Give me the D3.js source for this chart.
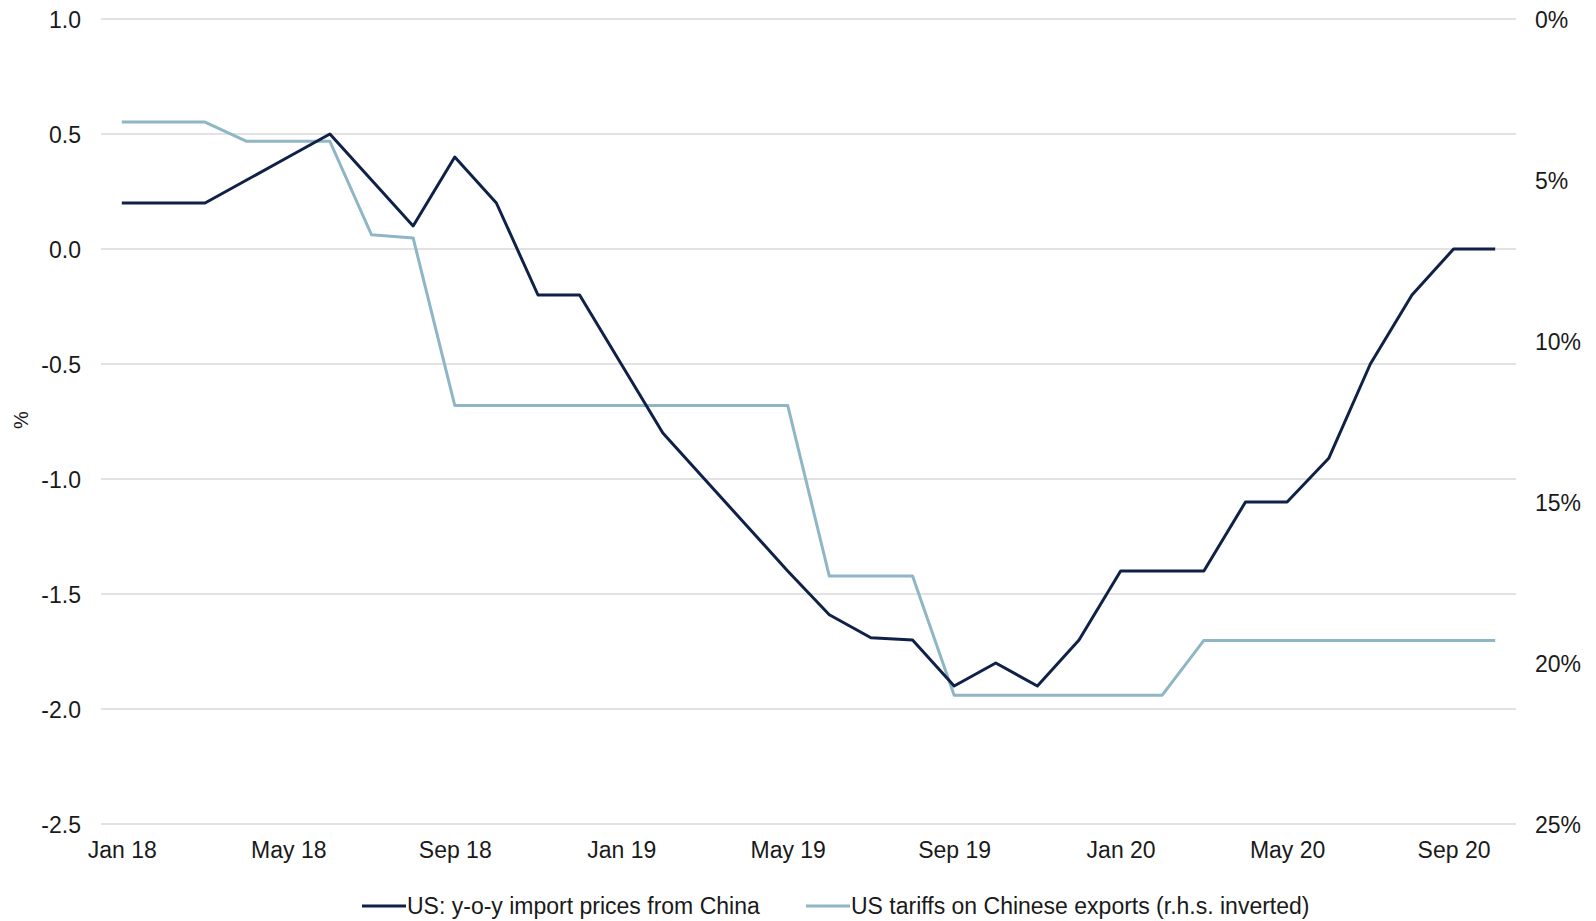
<!DOCTYPE html>
<html>
<head>
<meta charset="utf-8">
<script src="https://cdn.jsdelivr.net/npm/d3@7"></script>
<style>
  body { margin: 0; background: #fff; }
  svg text { font-family: "Liberation Sans", Arial, sans-serif; fill: #1a1a1a; }
</style>
</head>
<body>
<svg id="chart" width="1596" height="921"></svg>
<script>
// months Jan 18 .. Oct 20
var months = ["Jan 18","Feb 18","Mar 18","Apr 18","May 18","Jun 18","Jul 18","Aug 18","Sep 18","Oct 18","Nov 18","Dec 18",
              "Jan 19","Feb 19","Mar 19","Apr 19","May 19","Jun 19","Jul 19","Aug 19","Sep 19","Oct 19","Nov 19","Dec 19",
              "Jan 20","Feb 20","Mar 20","Apr 20","May 20","Jun 20","Jul 20","Aug 20","Sep 20","Oct 20"];

// US y-o-y import prices from China (%)
var importPrices = [0.2, 0.2, 0.2, 0.3, 0.4, 0.5, 0.3, 0.1, 0.4, 0.2, -0.2, -0.2,
                    -0.5, -0.8, -1.0, -1.2, -1.4, -1.59, -1.69, -1.7, -1.9, -1.8, -1.9, -1.7,
                    -1.4, -1.4, -1.4, -1.1, -1.1, -0.91, -0.5, -0.2, 0.0, 0.0];

// US tariffs on Chinese exports (%), plotted on inverted rhs
var tariffs = [3.2, 3.2, 3.2, 3.8, 3.8, 3.8, 6.7, 6.8, 12.0, 12.0, 12.0, 12.0,
               12.0, 12.0, 12.0, 12.0, 12.0, 17.3, 17.3, 17.3, 21.0, 21.0, 21.0, 21.0,
               21.0, 21.0, 19.3, 19.3, 19.3, 19.3, 19.3, 19.3, 19.3, 19.3];

var leftTicks = [1.0, 0.5, 0.0, -0.5, -1.0, -1.5, -2.0, -2.5];
var rightTicks = [0, 5, 10, 15, 20, 25];
var xTickLabels = ["Jan 18","May 18","Sep 18","Jan 19","May 19","Sep 19","Jan 20","May 20","Sep 20"];

var darkColor = "#0f2147";
var lightColor = "#8fb6c4";

function draw() {
    var svg = d3.select("#chart");
    var pl = 101, pr = 1516, pt = 19, pb = 824;
    var fs = "23px";

    var x = d3.scalePoint().domain(months).range([pl, pr]).padding(0.5);
    var yL = d3.scaleLinear().domain([-2.5, 1.0]).range([pb, pt]);
    var yR = d3.scaleLinear().domain([0, 25]).range([pt, pb]);

    // gridlines
    svg.append("g").selectAll("line").data(leftTicks).enter().append("line")
        .attr("x1", pl).attr("x2", pr)
        .attr("y1", function (d) { return yL(d); })
        .attr("y2", function (d) { return yL(d); })
        .attr("stroke", "#d9d9d9").attr("stroke-width", 1.5);

    // left axis (plain hyphen for minus, as in the source)
    var gl = svg.append("g").attr("transform", "translate(" + pl + ",0)")
        .call(d3.axisLeft(yL).tickValues(leftTicks)
            .tickFormat(function (d) { return d.toFixed(1); })
            .tickSize(0).tickPadding(20));
    gl.select(".domain").remove();
    gl.selectAll("text").style("font-size", fs).attr("dy", "0.35em");

    // right axis
    var gr = svg.append("g").attr("transform", "translate(" + pr + ",0)")
        .call(d3.axisRight(yR).tickValues(rightTicks).tickFormat(function (d) { return d + "%"; }).tickSize(0).tickPadding(19));
    gr.select(".domain").remove();
    gr.selectAll("text").style("font-size", fs).attr("dy", "0.35em");

    // x axis
    var gx = svg.append("g").attr("transform", "translate(0," + pb + ")")
        .call(d3.axisBottom(x).tickValues(xTickLabels).tickSize(0).tickPadding(18));
    gx.select(".domain").remove();
    gx.selectAll("text").style("font-size", fs);

    // y title
    svg.append("text").attr("transform", "translate(28,420) rotate(-90)")
        .attr("text-anchor", "middle").style("font-size", "20px").text("%");

    // lines
    var lineL = d3.line().x(function (d, i) { return x(months[i]); }).y(function (d) { return yL(d); });
    var lineR = d3.line().x(function (d, i) { return x(months[i]); }).y(function (d) { return yR(d); });

    svg.append("path").datum(tariffs).attr("d", lineR)
        .attr("fill", "none").attr("stroke", lightColor).attr("stroke-width", 3).attr("stroke-linejoin", "round");
    svg.append("path").datum(importPrices).attr("d", lineL)
        .attr("fill", "none").attr("stroke", darkColor).attr("stroke-width", 3).attr("stroke-linejoin", "round");

    // legend
    var legend = [
        {name: "US: y-o-y import prices from China", color: darkColor, x: 362},
        {name: "US tariffs on Chinese exports (r.h.s. inverted)", color: lightColor, x: 806}
    ];
    var lg = svg.append("g").selectAll("g").data(legend).enter().append("g")
        .attr("transform", function (d) { return "translate(" + d.x + ",906)"; });
    lg.append("line").attr("x1", 0).attr("x2", 44).attr("y1", 0).attr("y2", 0)
        .attr("stroke", function (d) { return d.color; }).attr("stroke-width", 3);
    lg.append("text").attr("x", 45).attr("dy", "0.35em").style("font-size", fs)
        .text(function (d) { return d.name; });
}
draw();
</script>
</body>
</html>
